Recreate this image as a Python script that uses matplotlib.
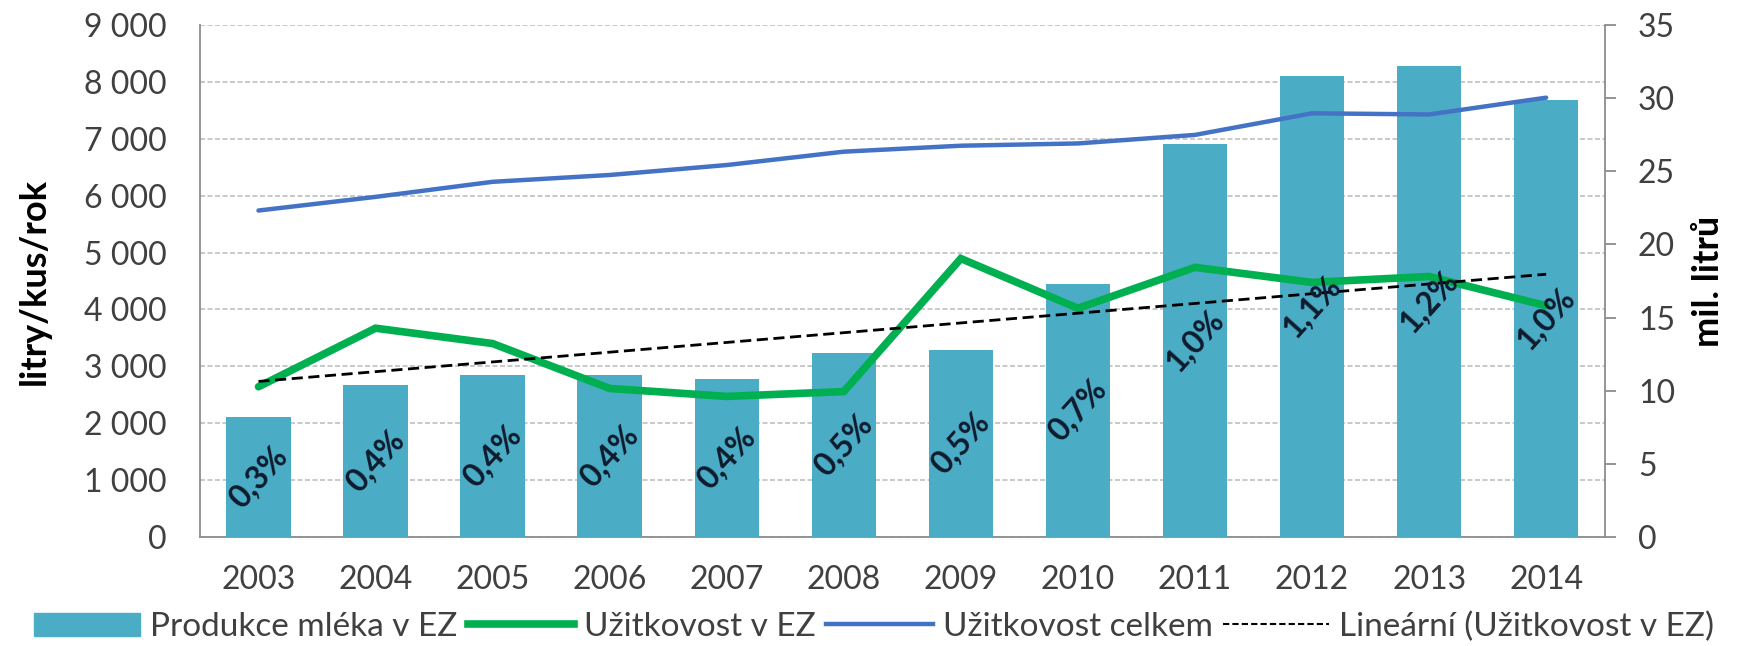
import matplotlib
matplotlib.use('Agg')
import matplotlib.pyplot as plt
import matplotlib.patches as mpatches
from matplotlib.lines import Line2D
from matplotlib.ticker import FuncFormatter
import numpy as np

plt.rcParams['font.family'] = ['Lato', 'DejaVu Sans']

years = ['2003', '2004', '2005', '2006', '2007', '2008', '2009', '2010', '2011', '2012', '2013', '2014']
# Produkce mléka v EZ (mil. litrů) - pravá osa
produkce_ez = [8.2, 10.4, 11.1, 11.1, 10.8, 12.6, 12.8, 17.3, 26.9, 31.5, 32.2, 29.9]
# Užitkovost v EZ (litry/kus/rok)
uzitkovost_ez = [2640, 3670, 3400, 2610, 2470, 2555, 4895, 4020, 4740, 4475, 4580, 4065]
# Užitkovost celkem (litry/kus/rok)
uzitkovost_celkem = [5740, 5980, 6245, 6365, 6540, 6775, 6880, 6920, 7070, 7450, 7430, 7725]
# podíl EZ na celkové produkci
podil = ['0,3%', '0,4%', '0,4%', '0,4%', '0,4%', '0,5%', '0,5%', '0,7%', '1,0%', '1,1%', '1,2%', '1,0%']

BAR_C = '#4BACC6'
GREEN = '#00B050'
BLUE = '#4472C4'
GRID_C = '#BFBFBF'
SPINE_C = '#8C8C8C'
TXT_C = '#404040'
FS = 23

x = np.arange(len(years))
slope, intercept = np.polyfit(x, uzitkovost_ez, 1)
trend = slope * x + intercept

fig = plt.figure(figsize=(17.48, 6.46), dpi=100)
rect = [0.1144, 0.169, 0.8036, 0.792]
ax = fig.add_axes(rect)
ax2 = ax.twinx()
ax3 = fig.add_axes(rect, sharex=ax, sharey=ax)
ax3.set_zorder(ax2.get_zorder() + 1)
ax3.patch.set_visible(False)
ax3.axis('off')

# levá osa + mřížka
ax.set_xlim(-0.5, len(years) - 0.5)
ax.set_ylim(0, 9000)
ax.set_yticks(range(0, 9001, 1000))
ax.yaxis.set_major_formatter(FuncFormatter(lambda v, p: f'{int(v):,}'.replace(',', ' ')))
ax.grid(axis='y', color=GRID_C, linestyle=(0, (3, 1.5)), linewidth=1.2)
ax.set_axisbelow(True)
ax.tick_params(axis='y', length=0, labelsize=FS, labelcolor=TXT_C, pad=24)
ax.tick_params(axis='x', length=0, labelsize=FS, labelcolor=TXT_C, pad=20)
ax.set_xticks(x)
ax.set_xticklabels(years)
ax.set_ylabel('litry/kus/rok', fontsize=26, fontweight='bold', labelpad=24)
for s in ['top', 'right']:
    ax.spines[s].set_visible(False)
for s in ['left', 'bottom']:
    ax.spines[s].set_color(SPINE_C)
    ax.spines[s].set_linewidth(1.3)

# pravá osa - sloupce
ax2.bar(x, produkce_ez, width=0.55, color=BAR_C, zorder=2)
ax2.set_ylim(0, 35)
ax2.set_yticks(range(0, 36, 5))
ax2.tick_params(axis='y', length=8, width=1.3, color=SPINE_C, labelsize=FS, labelcolor=TXT_C, pad=16)
ax2.set_ylabel('mil. litrů', fontsize=26, fontweight='bold', labelpad=12)
for s in ['top', 'left', 'bottom']:
    ax2.spines[s].set_visible(False)
ax2.spines['right'].set_color(SPINE_C)
ax2.spines['right'].set_linewidth(1.3)

# čáry
ax3.plot(x, uzitkovost_celkem, color=BLUE, linewidth=3.2, solid_capstyle='round')
ax3.plot(x, uzitkovost_ez, color=GREEN, linewidth=5.5, solid_capstyle='round', solid_joinstyle='miter')
ax3.plot(x, trend, color='black', linewidth=2, linestyle=(0, (4, 2)))

# popisky podílu
for xi, val, lab in zip(x, produkce_ez, podil):
    ax3.text(xi, val / 2, lab, transform=ax2.transData, rotation=48,
             ha='center', va='center', fontsize=23, fontweight='bold', color='#0F1B2D')

handles = [
    mpatches.Patch(color=BAR_C, label='Produkce mléka v EZ'),
    Line2D([], [], color=GREEN, linewidth=5.5, label='Užitkovost v EZ'),
    Line2D([], [], color=BLUE, linewidth=3.2, label='Užitkovost celkem'),
    Line2D([], [], color='black', linewidth=1.5, linestyle=(0, (3, 1.5)), label='Lineární (Užitkovost v EZ)'),
]
fig.legend(handles=handles, loc='center', bbox_to_anchor=(0.5, 0.03), ncol=4, frameon=False,
           fontsize=24, handlelength=3.2, handletextpad=0.3, columnspacing=0.3,
           labelcolor=TXT_C)

plt.savefig('out.png', dpi=100)
plt.close()
